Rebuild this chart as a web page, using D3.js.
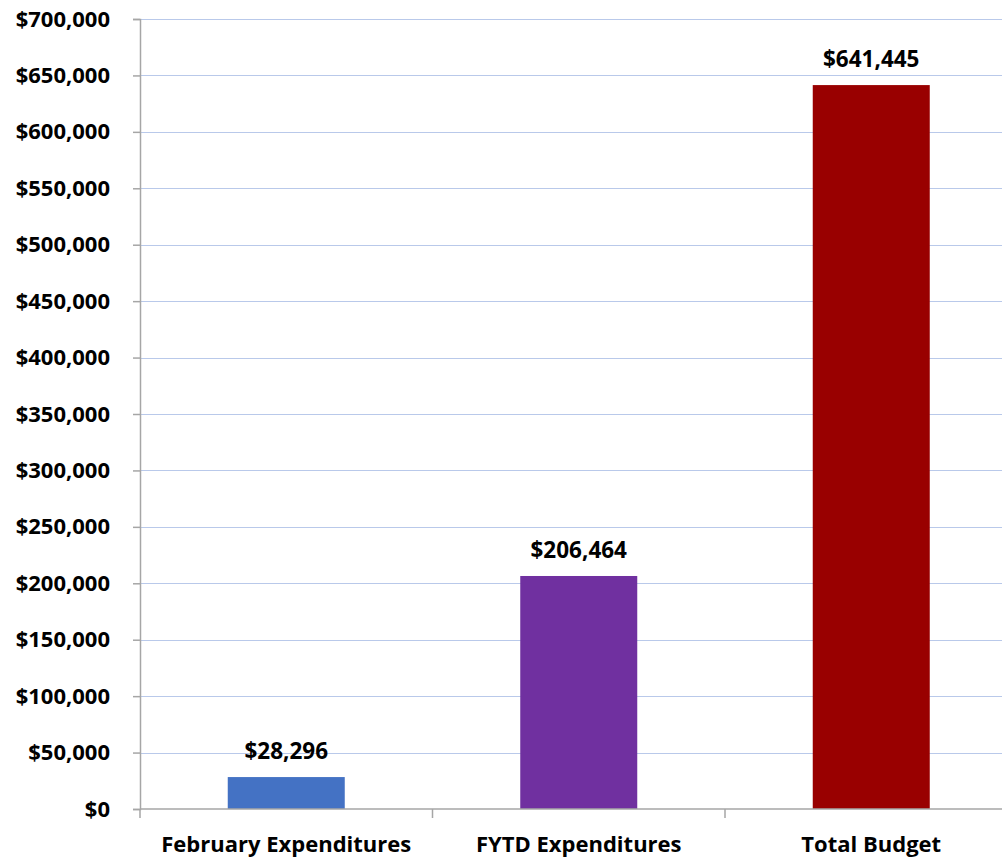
<!DOCTYPE html>
<html><head><meta charset="utf-8">
<script src="https://cdn.jsdelivr.net/npm/d3@7"></script>
<style>body{margin:0;background:#fff}svg{display:block}</style>
</head><body>
<script>
const categories = ["February Expenditures", "FYTD Expenditures", "Total Budget"];
const values = [28296, 206464, 641445];
const barColors = ["#4472c4", "#7030a0", "#990000"];
const yTicks = [0,50000,100000,150000,200000,250000,300000,350000,400000,450000,500000,550000,600000,650000,700000];

const W = 1002, H = 859;
const m = {left: 140, top: 19, right: -15.5, bottom: 50};
const svg = d3.select("body").append("svg").attr("width", W).attr("height", H);
const font = "'Open Sans', sans-serif";
const fs = 22;

const x = d3.scaleBand().domain(categories).range([m.left, W - m.right]).paddingInner(0.6).paddingOuter(0.3);
const y = d3.scaleLinear().domain([0, 700000]).range([809, m.top]);
const fmt = v => "$" + d3.format(",")(v);

svg.append("g").selectAll("line").data(yTicks.filter(d => d > 0)).join("line")
  .attr("x1", m.left).attr("x2", W).attr("y1", d => Math.round(y(d)) + 0.5).attr("y2", d => Math.round(y(d)) + 0.5)
  .attr("stroke", "#b9c9ea").attr("stroke-width", 1);

svg.append("g").selectAll("rect").data(values).join("rect")
  .attr("x", (d, i) => x(categories[i])).attr("width", x.bandwidth())
  .attr("y", d => y(d)).attr("height", d => y(0) - y(d))
  .attr("fill", (d, i) => barColors[i]);

const ya = svg.append("g").attr("transform", `translate(${m.left},0)`)
  .call(d3.axisLeft(y).tickValues(yTicks).tickFormat(fmt).tickSize(7).tickPadding(23));
ya.select(".domain").attr("stroke", "#a6a6a6").attr("stroke-width", 1.5);
ya.selectAll(".tick line").attr("stroke", "#a6a6a6").attr("stroke-width", 1.5);
ya.selectAll("text").attr("font-family", font).attr("font-weight", "bold").attr("font-size", fs).attr("fill", "#000");

const xs = d3.scaleLinear().domain([0, 3]).range([m.left, W - m.right]);
svg.append("line").attr("x1", m.left).attr("x2", W).attr("y1", 809).attr("y2", 809)
  .attr("stroke", "#a6a6a6").attr("stroke-width", 1.5);
svg.append("g").selectAll("line").data([0,1,2]).join("line")
  .attr("x1", d => xs(d)).attr("x2", d => xs(d)).attr("y1", 809).attr("y2", 818)
  .attr("stroke", "#a6a6a6").attr("stroke-width", 1.5);
svg.append("g").selectAll("text").data(categories).join("text")
  .attr("x", d => x(d) + x.bandwidth() / 2).attr("y", 852)
  .attr("text-anchor", "middle").attr("font-family", font).attr("font-weight", "bold")
  .attr("font-size", fs).attr("fill", "#000").text(d => d);

svg.append("g").selectAll("text").data(values).join("text")
  .attr("x", (d, i) => x(categories[i]) + x.bandwidth() / 2).attr("y", d => y(d) - 18)
  .attr("text-anchor", "middle").attr("font-family", font).attr("font-weight", "bold")
  .attr("font-size", 22.5).attr("fill", "#000").text(fmt);
</script>
</body></html>
